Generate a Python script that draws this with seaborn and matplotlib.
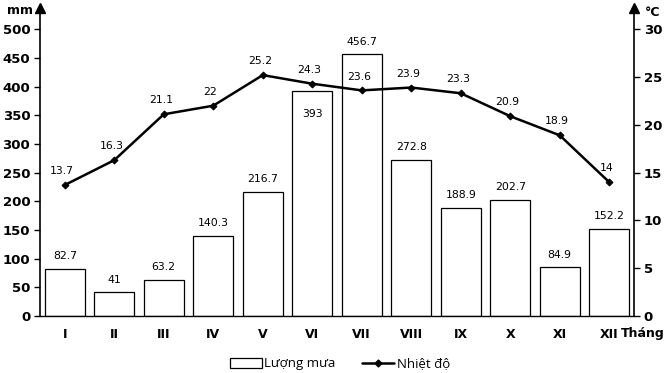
import numpy as np
import pandas as pd
import matplotlib
matplotlib.use("Agg")
import matplotlib.pyplot as plt
import seaborn as sns
from matplotlib.patches import Patch
from matplotlib.lines import Line2D

months = ["I", "II", "III", "IV", "V", "VI", "VII", "VIII", "IX", "X", "XI", "XII"]
rain = [82.7, 41, 63.2, 140.3, 216.7, 393, 456.7, 272.8, 188.9, 202.7, 84.9, 152.2]
temp = [13.7, 16.3, 21.1, 22, 25.2, 24.3, 23.6, 23.9, 23.3, 20.9, 18.9, 14]
rain_ticks = [0, 50, 100, 150, 200, 250, 300, 350, 400, 450, 500]
temp_ticks = [0, 5, 10, 15, 20, 25, 30]

sns.set_style("white")
plt.rcParams['font.family'] = ['DejaVu Sans']
for k in ["text.color", "axes.labelcolor", "xtick.color", "ytick.color", "axes.edgecolor"]:
    plt.rcParams[k] = "black"
BOLD = ['DejaVu Sans']

df = pd.DataFrame({"month": months, "rain": rain, "temp": temp, "pos": np.arange(len(months))})

fig = plt.figure(figsize=(6.67, 3.73), dpi=100)
ax = fig.add_axes([40/667, 1-316/373, (634-40)/667, (316-8)/373])

sns.barplot(data=df, x="month", y="rain", order=months, ax=ax, color="white",
            edgecolor="black", linewidth=0.9, width=0.8, saturation=1)
ax.set_xlim(-0.5, 11.5)
ax.set_ylim(0, 537)
ax.set_yticks(rain_ticks)
ax.set_xlabel("")
ax.set_ylabel("")
for s in ["top", "right"]:
    ax.spines[s].set_visible(False)
ax.spines["left"].set_linewidth(1.2)
ax.spines["bottom"].set_linewidth(1.0)
ax.tick_params(axis="y", direction="out", length=4, width=1, labelsize=9.5, pad=3)
ax.tick_params(axis="x", direction="out", length=3, width=0.8, labelsize=9, pad=6)
for lab in ax.get_yticklabels() + ax.get_xticklabels():
    lab.set_fontweight("bold")
    lab.set_family(BOLD)

for i, v in enumerate(rain):
    txt = f"{v:g}"
    if v == 393:
        ax.annotate(txt, (i, v), xytext=(0, -17), textcoords="offset points",
                    ha="center", va="center", fontsize=7.8)
    else:
        ax.annotate(txt, (i, v), xytext=(0, 9), textcoords="offset points",
                    ha="center", va="center", fontsize=7.8)

ax2 = ax.twinx()
sns.lineplot(data=df, x="pos", y="temp", ax=ax2, color="black", linewidth=1.8,
             marker="D", markersize=3.5, markeredgecolor="black")
ax2.set_xlim(-0.5, 11.5)
ax2.set_ylim(0, 537 * 30 / 500)
ax2.set_yticks(temp_ticks)
ax2.set_xlabel("")
ax2.set_ylabel("")
for s in ["top", "left", "bottom"]:
    ax2.spines[s].set_visible(False)
ax2.spines["right"].set_linewidth(1.2)
ax2.tick_params(axis="y", direction="out", length=4, width=1, labelsize=9.5, pad=3)
for lab in ax2.get_yticklabels():
    lab.set_fontweight("bold")
    lab.set_family(BOLD)

for i, v in enumerate(temp):
    ax2.annotate(f"{v:g}", (i, v), xytext=(-2, 10), textcoords="offset points",
                 ha="center", va="center", fontsize=7.8)

# arrows at axis tops
ax.plot([0], [1], marker="^", color="black", markersize=7,
        transform=ax.transAxes, clip_on=False)
ax.plot([1], [1], marker="^", color="black", markersize=7,
        transform=ax.transAxes, clip_on=False)

fig.text(33/667, 1-11/373, "mm", ha="right", va="center", fontsize=9,
         fontweight="bold", family=BOLD)
fig.text(645/667, 1-13/373, "°C", ha="left", va="center", fontsize=9,
         fontweight="bold", family=BOLD)
fig.text(621/667, 1-334/373, "Tháng", ha="left", va="center", fontsize=9,
         fontweight="bold", family=BOLD)

handles = [Patch(facecolor="white", edgecolor="black", linewidth=0.9),
           Line2D([0], [0], color="black", linewidth=1.8, marker="D", markersize=3.5)]
fig.legend(handles, ["Lượng mưa", "Nhiệt độ"], loc="center", bbox_to_anchor=(340/667, 1-364/373),
           ncol=2, frameon=False, handlelength=2.4, handletextpad=0.2,
           columnspacing=2.0, prop={"family": ["Open Sans", "DejaVu Sans"], "size": 9.5})

fig.savefig("out.png", dpi=100)
